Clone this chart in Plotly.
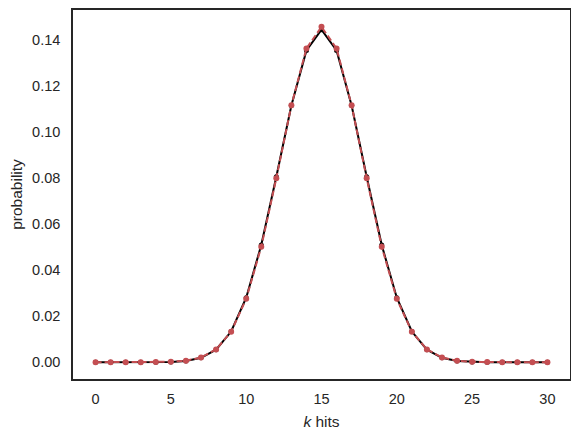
import plotly.graph_objects as go

k_values = list(range(31))
binomial_pmf = [
    9.3e-10, 2.8e-8, 4.05e-7, 3.78e-6, 2.552e-5, 1.327e-4, 5.530e-4, 0.001896,
    0.005451, 0.013325, 0.027982, 0.050876, 0.080553, 0.111535, 0.135435, 0.144464,
    0.135435, 0.111535, 0.080553, 0.050876, 0.027982, 0.013325, 0.005451, 0.001896,
    5.530e-4, 1.327e-4, 2.552e-5, 3.78e-6, 4.05e-7, 2.8e-8, 9.3e-10,
]
normal_pdf = [
    4.5e-8, 3.1e-7, 1.86e-6, 9.9e-6, 4.57e-5, 1.85e-4, 6.58e-4, 0.002043,
    0.005553, 0.013215, 0.02751, 0.05013, 0.07995, 0.11157, 0.13628, 0.14567,
    0.13628, 0.11157, 0.07995, 0.05013, 0.02751, 0.013215, 0.005553, 0.002043,
    6.58e-4, 1.85e-4, 4.57e-5, 9.9e-6, 1.86e-6, 3.1e-7, 4.5e-8,
]

x_ticks = [0, 5, 10, 15, 20, 25, 30]
y_ticks = [0.0, 0.02, 0.04, 0.06, 0.08, 0.10, 0.12, 0.14]

fig = go.Figure()
fig.add_trace(go.Scatter(
    x=k_values, y=binomial_pmf, mode="lines+markers",
    line=dict(color="black", width=2),
    marker=dict(color="black", size=5),
    showlegend=False,
))
fig.add_trace(go.Scatter(
    x=k_values, y=normal_pdf, mode="lines+markers",
    line=dict(color="#C44E52", width=2, dash="6px,3px"),
    marker=dict(color="#C44E52", size=6),
    showlegend=False,
))

axis_common = dict(
    showgrid=False, zeroline=False, showline=True, mirror=True,
    linecolor="#262626", linewidth=1.5, automargin=False,
    ticks="outside", ticklen=0, tickcolor="rgba(0,0,0,0)",
    tickfont=dict(family="Liberation Sans, Arial, sans-serif", size=14.5, color="#262626"),
)

fig.update_layout(
    width=571, height=431,
    margin=dict(l=65, r=9, t=2, b=60),
    paper_bgcolor="white", plot_bgcolor="white",
    font=dict(family="Liberation Sans, Arial, sans-serif", color="#262626"),
    xaxis=dict(
        range=[-1.5, 31.5], tickvals=x_ticks,
        ticktext=[str(v) for v in x_ticks],
        ticklabelstandoff=6,
        title=dict(text="<i>k</i> hits", font=dict(size=15.5), standoff=10),
        **axis_common,
    ),
    yaxis=dict(
        range=[-0.0073, 0.153], tickvals=y_ticks,
        ticktext=[f"{v:.2f}" for v in y_ticks],
        ticklabelstandoff=8,
        title=dict(text="probability", font=dict(size=15.5), standoff=8),
        **axis_common,
    ),
)

fig.write_html("out.html")
